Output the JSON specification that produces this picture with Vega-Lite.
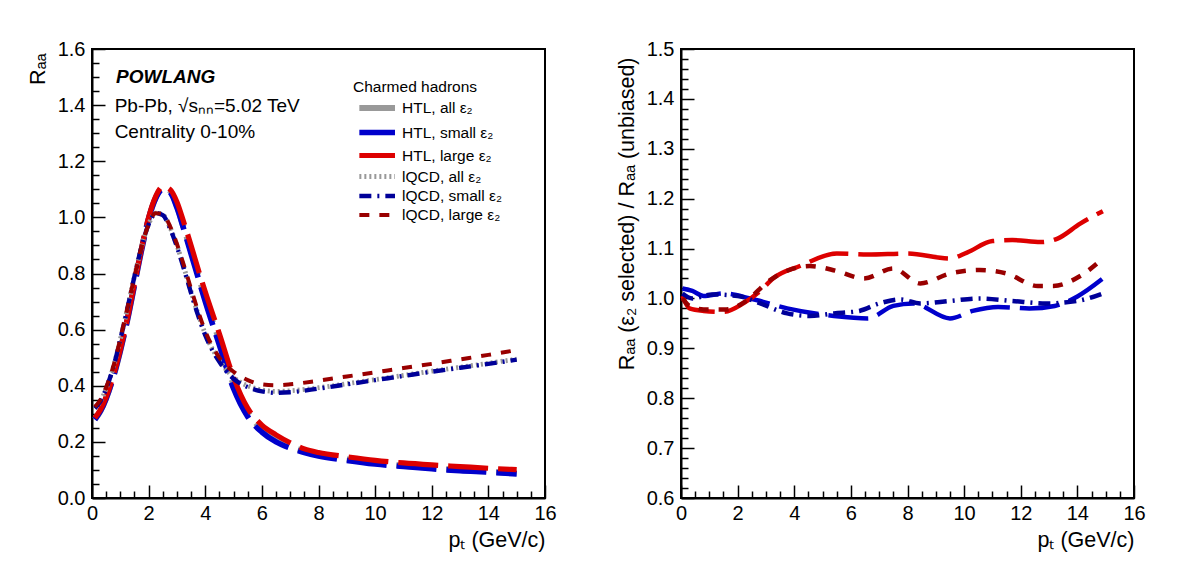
{
  "$schema": "https://vega.github.io/schema/vega-lite/v6.json",
  "padding": {"left": 26, "top": 38, "right": 10, "bottom": 10},
  "background": "white",
  "config": {
    "font": "Liberation Sans",
    "view": {"stroke": "black", "strokeWidth": 2},
    "axis": {
      "grid": false,
      "labelFlush": false,
      "domainColor": "black",
      "domainWidth": 2,
      "tickColor": "black",
      "tickWidth": 1.5,
      "labelColor": "black",
      "labelFont": "Liberation Sans",
      "labelFontSize": 20,
      "titleColor": "black",
      "titleFont": "Liberation Sans",
      "titleFontSize": 21.5,
      "titleFontWeight": "normal"
    }
  },
  "spacing": 57,
  "datasets": {
    "raa": [
      {"series": "HTL, all ε₂", "pT": 0.1, "R": 0.28}, {"series": "HTL, all ε₂", "pT": 0.3, "R": 0.31}, {"series": "HTL, all ε₂", "pT": 0.5, "R": 0.355}, {"series": "HTL, all ε₂", "pT": 0.75, "R": 0.43}, {"series": "HTL, all ε₂", "pT": 1.0, "R": 0.525}, {"series": "HTL, all ε₂", "pT": 1.25, "R": 0.635}, {"series": "HTL, all ε₂", "pT": 1.5, "R": 0.76}, {"series": "HTL, all ε₂", "pT": 1.75, "R": 0.885}, {"series": "HTL, all ε₂", "pT": 2.0, "R": 0.995}, {"series": "HTL, all ε₂", "pT": 2.25, "R": 1.07}, {"series": "HTL, all ε₂", "pT": 2.5, "R": 1.105}, {"series": "HTL, all ε₂", "pT": 2.75, "R": 1.095}, {"series": "HTL, all ε₂", "pT": 3.0, "R": 1.04}, {"series": "HTL, all ε₂", "pT": 3.25, "R": 0.96}, {"series": "HTL, all ε₂", "pT": 3.5, "R": 0.88}, {"series": "HTL, all ε₂", "pT": 3.75, "R": 0.795}, {"series": "HTL, all ε₂", "pT": 4.0, "R": 0.71}, {"series": "HTL, all ε₂", "pT": 4.5, "R": 0.56}, {"series": "HTL, all ε₂", "pT": 5.0, "R": 0.405}, {"series": "HTL, all ε₂", "pT": 5.5, "R": 0.305}, {"series": "HTL, all ε₂", "pT": 6.0, "R": 0.245}, {"series": "HTL, all ε₂", "pT": 6.5, "R": 0.21}, {"series": "HTL, all ε₂", "pT": 7.0, "R": 0.185}, {"series": "HTL, all ε₂", "pT": 7.5, "R": 0.167}, {"series": "HTL, all ε₂", "pT": 8, "R": 0.155}, {"series": "HTL, all ε₂", "pT": 9, "R": 0.138}, {"series": "HTL, all ε₂", "pT": 10, "R": 0.125}, {"series": "HTL, all ε₂", "pT": 11, "R": 0.115}, {"series": "HTL, all ε₂", "pT": 12, "R": 0.107}, {"series": "HTL, all ε₂", "pT": 13, "R": 0.1}, {"series": "HTL, all ε₂", "pT": 14, "R": 0.094}, {"series": "HTL, all ε₂", "pT": 15, "R": 0.088},

      {"series": "HTL, small ε₂", "pT": 0.1, "R": 0.28}, {"series": "HTL, small ε₂", "pT": 0.3, "R": 0.31}, {"series": "HTL, small ε₂", "pT": 0.5, "R": 0.355}, {"series": "HTL, small ε₂", "pT": 0.75, "R": 0.43}, {"series": "HTL, small ε₂", "pT": 1.0, "R": 0.525}, {"series": "HTL, small ε₂", "pT": 1.25, "R": 0.635}, {"series": "HTL, small ε₂", "pT": 1.5, "R": 0.76}, {"series": "HTL, small ε₂", "pT": 1.75, "R": 0.885}, {"series": "HTL, small ε₂", "pT": 2.0, "R": 0.995}, {"series": "HTL, small ε₂", "pT": 2.25, "R": 1.068}, {"series": "HTL, small ε₂", "pT": 2.5, "R": 1.1}, {"series": "HTL, small ε₂", "pT": 2.75, "R": 1.09}, {"series": "HTL, small ε₂", "pT": 3.0, "R": 1.035}, {"series": "HTL, small ε₂", "pT": 3.25, "R": 0.955}, {"series": "HTL, small ε₂", "pT": 3.5, "R": 0.87}, {"series": "HTL, small ε₂", "pT": 3.75, "R": 0.785}, {"series": "HTL, small ε₂", "pT": 4.0, "R": 0.7}, {"series": "HTL, small ε₂", "pT": 4.5, "R": 0.545}, {"series": "HTL, small ε₂", "pT": 5.0, "R": 0.39}, {"series": "HTL, small ε₂", "pT": 5.5, "R": 0.29}, {"series": "HTL, small ε₂", "pT": 6.0, "R": 0.235}, {"series": "HTL, small ε₂", "pT": 6.5, "R": 0.2}, {"series": "HTL, small ε₂", "pT": 7.0, "R": 0.178}, {"series": "HTL, small ε₂", "pT": 7.5, "R": 0.162}, {"series": "HTL, small ε₂", "pT": 8, "R": 0.15}, {"series": "HTL, small ε₂", "pT": 9, "R": 0.134}, {"series": "HTL, small ε₂", "pT": 10, "R": 0.121}, {"series": "HTL, small ε₂", "pT": 11, "R": 0.112}, {"series": "HTL, small ε₂", "pT": 12, "R": 0.104}, {"series": "HTL, small ε₂", "pT": 13, "R": 0.097}, {"series": "HTL, small ε₂", "pT": 14, "R": 0.092}, {"series": "HTL, small ε₂", "pT": 15, "R": 0.086},

      {"series": "HTL, large ε₂", "pT": 0.1, "R": 0.285}, {"series": "HTL, large ε₂", "pT": 0.3, "R": 0.315}, {"series": "HTL, large ε₂", "pT": 0.5, "R": 0.36}, {"series": "HTL, large ε₂", "pT": 0.75, "R": 0.435}, {"series": "HTL, large ε₂", "pT": 1.0, "R": 0.53}, {"series": "HTL, large ε₂", "pT": 1.25, "R": 0.64}, {"series": "HTL, large ε₂", "pT": 1.5, "R": 0.765}, {"series": "HTL, large ε₂", "pT": 1.75, "R": 0.89}, {"series": "HTL, large ε₂", "pT": 2.0, "R": 1.0}, {"series": "HTL, large ε₂", "pT": 2.25, "R": 1.075}, {"series": "HTL, large ε₂", "pT": 2.5, "R": 1.11}, {"series": "HTL, large ε₂", "pT": 2.75, "R": 1.1}, {"series": "HTL, large ε₂", "pT": 3.0, "R": 1.055}, {"series": "HTL, large ε₂", "pT": 3.25, "R": 0.98}, {"series": "HTL, large ε₂", "pT": 3.5, "R": 0.9}, {"series": "HTL, large ε₂", "pT": 3.75, "R": 0.815}, {"series": "HTL, large ε₂", "pT": 4.0, "R": 0.735}, {"series": "HTL, large ε₂", "pT": 4.5, "R": 0.585}, {"series": "HTL, large ε₂", "pT": 5.0, "R": 0.43}, {"series": "HTL, large ε₂", "pT": 5.5, "R": 0.32}, {"series": "HTL, large ε₂", "pT": 6.0, "R": 0.26}, {"series": "HTL, large ε₂", "pT": 6.5, "R": 0.225}, {"series": "HTL, large ε₂", "pT": 7.0, "R": 0.197}, {"series": "HTL, large ε₂", "pT": 7.5, "R": 0.175}, {"series": "HTL, large ε₂", "pT": 8, "R": 0.162}, {"series": "HTL, large ε₂", "pT": 9, "R": 0.147}, {"series": "HTL, large ε₂", "pT": 10, "R": 0.134}, {"series": "HTL, large ε₂", "pT": 11, "R": 0.125}, {"series": "HTL, large ε₂", "pT": 12, "R": 0.118}, {"series": "HTL, large ε₂", "pT": 13, "R": 0.112}, {"series": "HTL, large ε₂", "pT": 14, "R": 0.106}, {"series": "HTL, large ε₂", "pT": 15, "R": 0.101},

      {"series": "lQCD, all ε₂", "pT": 0.1, "R": 0.32}, {"series": "lQCD, all ε₂", "pT": 0.3, "R": 0.345}, {"series": "lQCD, all ε₂", "pT": 0.5, "R": 0.39}, {"series": "lQCD, all ε₂", "pT": 0.75, "R": 0.465}, {"series": "lQCD, all ε₂", "pT": 1.0, "R": 0.565}, {"series": "lQCD, all ε₂", "pT": 1.25, "R": 0.675}, {"series": "lQCD, all ε₂", "pT": 1.5, "R": 0.79}, {"series": "lQCD, all ε₂", "pT": 1.75, "R": 0.895}, {"series": "lQCD, all ε₂", "pT": 2.0, "R": 0.975}, {"series": "lQCD, all ε₂", "pT": 2.25, "R": 1.015}, {"series": "lQCD, all ε₂", "pT": 2.5, "R": 1.01}, {"series": "lQCD, all ε₂", "pT": 2.75, "R": 0.965}, {"series": "lQCD, all ε₂", "pT": 3.0, "R": 0.9}, {"series": "lQCD, all ε₂", "pT": 3.25, "R": 0.82}, {"series": "lQCD, all ε₂", "pT": 3.5, "R": 0.735}, {"series": "lQCD, all ε₂", "pT": 3.75, "R": 0.655}, {"series": "lQCD, all ε₂", "pT": 4.0, "R": 0.585}, {"series": "lQCD, all ε₂", "pT": 4.5, "R": 0.49}, {"series": "lQCD, all ε₂", "pT": 5.0, "R": 0.43}, {"series": "lQCD, all ε₂", "pT": 5.5, "R": 0.4}, {"series": "lQCD, all ε₂", "pT": 6.0, "R": 0.385}, {"series": "lQCD, all ε₂", "pT": 6.5, "R": 0.38}, {"series": "lQCD, all ε₂", "pT": 7.0, "R": 0.382}, {"series": "lQCD, all ε₂", "pT": 8, "R": 0.393}, {"series": "lQCD, all ε₂", "pT": 9, "R": 0.407}, {"series": "lQCD, all ε₂", "pT": 10, "R": 0.422}, {"series": "lQCD, all ε₂", "pT": 11, "R": 0.437}, {"series": "lQCD, all ε₂", "pT": 12, "R": 0.452}, {"series": "lQCD, all ε₂", "pT": 13, "R": 0.466}, {"series": "lQCD, all ε₂", "pT": 14, "R": 0.48}, {"series": "lQCD, all ε₂", "pT": 15, "R": 0.495},

      {"series": "lQCD, small ε₂", "pT": 0.1, "R": 0.32}, {"series": "lQCD, small ε₂", "pT": 0.3, "R": 0.345}, {"series": "lQCD, small ε₂", "pT": 0.5, "R": 0.39}, {"series": "lQCD, small ε₂", "pT": 0.75, "R": 0.465}, {"series": "lQCD, small ε₂", "pT": 1.0, "R": 0.565}, {"series": "lQCD, small ε₂", "pT": 1.25, "R": 0.675}, {"series": "lQCD, small ε₂", "pT": 1.5, "R": 0.79}, {"series": "lQCD, small ε₂", "pT": 1.75, "R": 0.895}, {"series": "lQCD, small ε₂", "pT": 2.0, "R": 0.975}, {"series": "lQCD, small ε₂", "pT": 2.25, "R": 1.015}, {"series": "lQCD, small ε₂", "pT": 2.5, "R": 1.008}, {"series": "lQCD, small ε₂", "pT": 2.75, "R": 0.962}, {"series": "lQCD, small ε₂", "pT": 3.0, "R": 0.895}, {"series": "lQCD, small ε₂", "pT": 3.25, "R": 0.815}, {"series": "lQCD, small ε₂", "pT": 3.5, "R": 0.73}, {"series": "lQCD, small ε₂", "pT": 3.75, "R": 0.65}, {"series": "lQCD, small ε₂", "pT": 4.0, "R": 0.58}, {"series": "lQCD, small ε₂", "pT": 4.5, "R": 0.485}, {"series": "lQCD, small ε₂", "pT": 5.0, "R": 0.425}, {"series": "lQCD, small ε₂", "pT": 5.5, "R": 0.395}, {"series": "lQCD, small ε₂", "pT": 6.0, "R": 0.38}, {"series": "lQCD, small ε₂", "pT": 6.5, "R": 0.375}, {"series": "lQCD, small ε₂", "pT": 7.0, "R": 0.377}, {"series": "lQCD, small ε₂", "pT": 8, "R": 0.39}, {"series": "lQCD, small ε₂", "pT": 9, "R": 0.405}, {"series": "lQCD, small ε₂", "pT": 10, "R": 0.42}, {"series": "lQCD, small ε₂", "pT": 11, "R": 0.435}, {"series": "lQCD, small ε₂", "pT": 12, "R": 0.45}, {"series": "lQCD, small ε₂", "pT": 13, "R": 0.464}, {"series": "lQCD, small ε₂", "pT": 14, "R": 0.478}, {"series": "lQCD, small ε₂", "pT": 15, "R": 0.493},

      {"series": "lQCD, large ε₂", "pT": 0.1, "R": 0.325}, {"series": "lQCD, large ε₂", "pT": 0.3, "R": 0.35}, {"series": "lQCD, large ε₂", "pT": 0.5, "R": 0.395}, {"series": "lQCD, large ε₂", "pT": 0.75, "R": 0.468}, {"series": "lQCD, large ε₂", "pT": 1.0, "R": 0.567}, {"series": "lQCD, large ε₂", "pT": 1.25, "R": 0.677}, {"series": "lQCD, large ε₂", "pT": 1.5, "R": 0.79}, {"series": "lQCD, large ε₂", "pT": 1.75, "R": 0.895}, {"series": "lQCD, large ε₂", "pT": 2.0, "R": 0.975}, {"series": "lQCD, large ε₂", "pT": 2.25, "R": 1.015}, {"series": "lQCD, large ε₂", "pT": 2.5, "R": 1.012}, {"series": "lQCD, large ε₂", "pT": 2.75, "R": 0.97}, {"series": "lQCD, large ε₂", "pT": 3.0, "R": 0.905}, {"series": "lQCD, large ε₂", "pT": 3.25, "R": 0.828}, {"series": "lQCD, large ε₂", "pT": 3.5, "R": 0.745}, {"series": "lQCD, large ε₂", "pT": 3.75, "R": 0.665}, {"series": "lQCD, large ε₂", "pT": 4.0, "R": 0.595}, {"series": "lQCD, large ε₂", "pT": 4.5, "R": 0.5}, {"series": "lQCD, large ε₂", "pT": 5.0, "R": 0.45}, {"series": "lQCD, large ε₂", "pT": 5.5, "R": 0.42}, {"series": "lQCD, large ε₂", "pT": 6.0, "R": 0.405}, {"series": "lQCD, large ε₂", "pT": 6.5, "R": 0.402}, {"series": "lQCD, large ε₂", "pT": 7.0, "R": 0.405}, {"series": "lQCD, large ε₂", "pT": 8, "R": 0.418}, {"series": "lQCD, large ε₂", "pT": 9, "R": 0.433}, {"series": "lQCD, large ε₂", "pT": 10, "R": 0.448}, {"series": "lQCD, large ε₂", "pT": 11, "R": 0.463}, {"series": "lQCD, large ε₂", "pT": 12, "R": 0.478}, {"series": "lQCD, large ε₂", "pT": 13, "R": 0.494}, {"series": "lQCD, large ε₂", "pT": 14, "R": 0.51}, {"series": "lQCD, large ε₂", "pT": 15, "R": 0.527}
    ],
    "ratio": [
      {"series": "HTL, small ε₂", "pT": 0.05, "R": 1.02}, {"series": "HTL, small ε₂", "pT": 0.4, "R": 1.015}, {"series": "HTL, small ε₂", "pT": 0.8, "R": 1.005}, {"series": "HTL, small ε₂", "pT": 1.5, "R": 1.01}, {"series": "HTL, small ε₂", "pT": 2.45, "R": 1.0}, {"series": "HTL, small ε₂", "pT": 3.75, "R": 0.98}, {"series": "HTL, small ε₂", "pT": 5.4, "R": 0.965}, {"series": "HTL, small ε₂", "pT": 6.6, "R": 0.96}, {"series": "HTL, small ε₂", "pT": 7.5, "R": 0.985}, {"series": "HTL, small ε₂", "pT": 8.2, "R": 0.99}, {"series": "HTL, small ε₂", "pT": 9.5, "R": 0.96}, {"series": "HTL, small ε₂", "pT": 10.3, "R": 0.975}, {"series": "HTL, small ε₂", "pT": 11.2, "R": 0.983}, {"series": "HTL, small ε₂", "pT": 12.3, "R": 0.98}, {"series": "HTL, small ε₂", "pT": 13.2, "R": 0.985}, {"series": "HTL, small ε₂", "pT": 14.0, "R": 1.004}, {"series": "HTL, small ε₂", "pT": 14.9, "R": 1.04},

      {"series": "HTL, large ε₂", "pT": 0.05, "R": 1.005}, {"series": "HTL, large ε₂", "pT": 0.3, "R": 0.98}, {"series": "HTL, large ε₂", "pT": 0.8, "R": 0.975}, {"series": "HTL, large ε₂", "pT": 1.5, "R": 0.973}, {"series": "HTL, large ε₂", "pT": 2.2, "R": 0.99}, {"series": "HTL, large ε₂", "pT": 2.8, "R": 1.015}, {"series": "HTL, large ε₂", "pT": 3.25, "R": 1.04}, {"series": "HTL, large ε₂", "pT": 4.2, "R": 1.065}, {"series": "HTL, large ε₂", "pT": 5.5, "R": 1.09}, {"series": "HTL, large ε₂", "pT": 6.6, "R": 1.088}, {"series": "HTL, large ε₂", "pT": 8.0, "R": 1.09}, {"series": "HTL, large ε₂", "pT": 9.5, "R": 1.08}, {"series": "HTL, large ε₂", "pT": 10.1, "R": 1.092}, {"series": "HTL, large ε₂", "pT": 11.0, "R": 1.115}, {"series": "HTL, large ε₂", "pT": 11.7, "R": 1.117}, {"series": "HTL, large ε₂", "pT": 12.7, "R": 1.113}, {"series": "HTL, large ε₂", "pT": 13.3, "R": 1.12}, {"series": "HTL, large ε₂", "pT": 14.1, "R": 1.15}, {"series": "HTL, large ε₂", "pT": 14.9, "R": 1.175},

      {"series": "lQCD, small ε₂", "pT": 0.05, "R": 1.01}, {"series": "lQCD, small ε₂", "pT": 0.4, "R": 1.0}, {"series": "lQCD, small ε₂", "pT": 1.1, "R": 1.008}, {"series": "lQCD, small ε₂", "pT": 2.0, "R": 1.005}, {"series": "lQCD, small ε₂", "pT": 2.8, "R": 0.99}, {"series": "lQCD, small ε₂", "pT": 3.75, "R": 0.97}, {"series": "lQCD, small ε₂", "pT": 4.55, "R": 0.965}, {"series": "lQCD, small ε₂", "pT": 5.4, "R": 0.97}, {"series": "lQCD, small ε₂", "pT": 6.3, "R": 0.975}, {"series": "lQCD, small ε₂", "pT": 7.0, "R": 0.99}, {"series": "lQCD, small ε₂", "pT": 7.75, "R": 0.998}, {"series": "lQCD, small ε₂", "pT": 8.45, "R": 0.99}, {"series": "lQCD, small ε₂", "pT": 9.5, "R": 0.995}, {"series": "lQCD, small ε₂", "pT": 10.55, "R": 1.0}, {"series": "lQCD, small ε₂", "pT": 11.7, "R": 0.995}, {"series": "lQCD, small ε₂", "pT": 12.9, "R": 0.99}, {"series": "lQCD, small ε₂", "pT": 14.0, "R": 0.995}, {"series": "lQCD, small ε₂", "pT": 14.9, "R": 1.01},

      {"series": "lQCD, large ε₂", "pT": 0.05, "R": 1.0}, {"series": "lQCD, large ε₂", "pT": 0.3, "R": 0.985}, {"series": "lQCD, large ε₂", "pT": 0.8, "R": 0.978}, {"series": "lQCD, large ε₂", "pT": 1.6, "R": 0.978}, {"series": "lQCD, large ε₂", "pT": 2.3, "R": 0.995}, {"series": "lQCD, large ε₂", "pT": 3.1, "R": 1.035}, {"series": "lQCD, large ε₂", "pT": 4.55, "R": 1.065}, {"series": "lQCD, large ε₂", "pT": 5.5, "R": 1.055}, {"series": "lQCD, large ε₂", "pT": 6.45, "R": 1.04}, {"series": "lQCD, large ε₂", "pT": 7.5, "R": 1.06}, {"series": "lQCD, large ε₂", "pT": 8.45, "R": 1.03}, {"series": "lQCD, large ε₂", "pT": 9.5, "R": 1.05}, {"series": "lQCD, large ε₂", "pT": 10.55, "R": 1.057}, {"series": "lQCD, large ε₂", "pT": 11.5, "R": 1.05}, {"series": "lQCD, large ε₂", "pT": 12.6, "R": 1.025}, {"series": "lQCD, large ε₂", "pT": 13.15, "R": 1.025}, {"series": "lQCD, large ε₂", "pT": 14.1, "R": 1.045}, {"series": "lQCD, large ε₂", "pT": 14.9, "R": 1.08}
    ],
    "notes": [
      {"text": "POWLANG", "pT": 0.85, "R": 1.479, "kind": "model"},
      {"text": "Pb-Pb, √sₙₙ=5.02 TeV", "pT": 0.8, "R": 1.376, "kind": "info"},
      {"text": "Centrality 0-10%", "pT": 0.8, "R": 1.283, "kind": "info"}
    ]
  },
  "hconcat": [
    {
      "width": 453,
      "height": 449,
      "layer": [
        {
          "mark": {"type": "rule", "color": "#999999", "strokeWidth": 1.5, "strokeDash": [7, 5]},
          "encoding": {
            "x": {"datum": 0, "type": "quantitative", "scale": {"domain": [0, 16]},
                  "axis": {"orient": "bottom", "values": [0.5,1,1.5,2.5,3,3.5,4.5,5,5.5,6.5,7,7.5,8.5,9,9.5,10.5,11,11.5,12.5,13,13.5,14.5,15,15.5], "labels": false, "domain": false, "tickSize": -7, "title": null}},
            "x2": {"datum": 16},
            "y": {"datum": 1, "type": "quantitative", "scale": {"domain": [0, 1.6]},
                  "axis": {"orient": "left", "values": [0.05,0.1,0.15,0.25,0.3,0.35,0.45,0.5,0.55,0.65,0.7,0.75,0.85,0.9,0.95,1.05,1.1,1.15,1.25,1.3,1.35,1.45,1.5,1.55], "labels": false, "domain": false, "tickSize": -7, "title": null}}
          }
        },
        {
          "data": {"name": "raa"},
          "mark": {"type": "line", "interpolate": "monotone", "strokeCap": "butt"},
          "encoding": {
            "x": {"field": "pT", "type": "quantitative", "scale": {"domain": [0, 16]},
                  "axis": {"orient": "bottom", "values": [0,2,4,6,8,10,12,14,16], "tickSize": -13, "labelPadding": 18, "title": "pₜ (GeV/c)", "titleAnchor": "end", "titlePadding": 6}},
            "y": {"field": "R", "type": "quantitative", "scale": {"domain": [0, 1.6]},
                  "axis": {"orient": "left", "values": [0,0.2,0.4,0.6,0.8,1,1.2,1.4,1.6], "tickSize": -13, "labelPadding": 20, "title": "Rₐₐ", "titleAnchor": "end", "titlePadding": 8, "titleY": 4}},
            "color": {
              "field": "series", "type": "nominal",
              "scale": {
                "domain": ["HTL, all ε₂", "HTL, small ε₂", "HTL, large ε₂", "lQCD, all ε₂", "lQCD, small ε₂", "lQCD, large ε₂"],
                "range": ["#999999", "#0000cc", "#dd0000", "#999999", "#000099", "#990000"]
              },
              "legend": {
                "title": "Charmed hadrons",
                "orient": "none",
                "legendX": 261,
                "legendY": 31,
                "titleFontSize": 15.5,
                "titleFontWeight": "normal",
                "titleColor": "black",
                "titlePadding": 2,
                "labelFontSize": 15.5,
                "labelColor": "black",
                "symbolType": "M-0.58,0H4.4",
                "symbolSize": 205,
                "symbolStrokeWidth": 4.5,
                "rowPadding": 0,
                "labelOffset": 28
              }
            },
            "strokeDash": {
              "field": "series", "type": "nominal",
              "scale": {
                "domain": ["HTL, all ε₂", "HTL, small ε₂", "HTL, large ε₂", "lQCD, all ε₂", "lQCD, small ε₂", "lQCD, large ε₂"],
                "range": [[40, 10], [40, 10], [40, 10], [2, 3], [12, 6, 2, 6], [10, 10]]
              },
              "legend": null
            },
            "strokeWidth": {
              "field": "series", "type": "nominal",
              "scale": {
                "domain": ["HTL, all ε₂", "HTL, small ε₂", "HTL, large ε₂", "lQCD, all ε₂", "lQCD, small ε₂", "lQCD, large ε₂"],
                "range": [6, 4, 4, 4.5, 4.5, 4.5]
              },
              "legend": null
            }
          }
        },
        {
          "data": {"name": "notes"},
          "transform": [{"filter": "datum.kind === 'model'"}],
          "mark": {"type": "text", "align": "left", "baseline": "alphabetic", "color": "black", "font": "Liberation Sans", "fontSize": 19, "fontWeight": "bold", "fontStyle": "italic"},
          "encoding": {
            "x": {"field": "pT", "type": "quantitative", "axis": null},
            "y": {"field": "R", "type": "quantitative", "axis": null},
            "text": {"field": "text"}
          }
        },
        {
          "data": {"name": "notes"},
          "transform": [{"filter": "datum.kind === 'info'"}],
          "mark": {"type": "text", "align": "left", "baseline": "alphabetic", "color": "black", "font": "Liberation Sans", "fontSize": 19},
          "encoding": {
            "x": {"field": "pT", "type": "quantitative", "axis": null},
            "y": {"field": "R", "type": "quantitative", "axis": null},
            "text": {"field": "text"}
          }
        }
      ],
      "resolve": {"axis": {"x": "independent", "y": "independent"}}
    },
    {
      "width": 453,
      "height": 449,
      "layer": [
        {
          "mark": {"type": "rule", "color": "#999999", "strokeWidth": 1.5, "strokeDash": [7, 5]},
          "encoding": {
            "x": {"datum": 0, "type": "quantitative", "scale": {"domain": [0, 16]},
                  "axis": {"orient": "bottom", "values": [0.5,1,1.5,2.5,3,3.5,4.5,5,5.5,6.5,7,7.5,8.5,9,9.5,10.5,11,11.5,12.5,13,13.5,14.5,15,15.5], "labels": false, "domain": false, "tickSize": -7, "title": null}},
            "x2": {"datum": 16},
            "y": {"datum": 1, "type": "quantitative", "scale": {"domain": [0.6, 1.5]},
                  "axis": {"orient": "left", "values": [0.62,0.64,0.66,0.68,0.72,0.74,0.76,0.78,0.82,0.84,0.86,0.88,0.92,0.94,0.96,0.98,1.02,1.04,1.06,1.08,1.12,1.14,1.16,1.18,1.22,1.24,1.26,1.28,1.32,1.34,1.36,1.38,1.42,1.44,1.46,1.48], "labels": false, "domain": false, "tickSize": -7, "title": null}}
          }
        },
        {
          "data": {"name": "ratio"},
          "mark": {"type": "line", "interpolate": "monotone", "strokeCap": "butt", "strokeWidth": 4.5},
          "encoding": {
            "x": {"field": "pT", "type": "quantitative", "scale": {"domain": [0, 16]},
                  "axis": {"orient": "bottom", "values": [0,2,4,6,8,10,12,14,16], "tickSize": -13, "labelPadding": 18, "title": "pₜ (GeV/c)", "titleAnchor": "end", "titlePadding": 6}},
            "y": {"field": "R", "type": "quantitative", "scale": {"domain": [0.6, 1.5]},
                  "axis": {"orient": "left", "values": [0.6,0.7,0.8,0.9,1,1.1,1.2,1.3,1.4,1.5], "tickSize": -13, "labelPadding": 20, "title": "Rₐₐ (ε₂ selected) / Rₐₐ (unbiased)", "titleAnchor": "end", "titlePadding": 8, "titleY": 8}},
            "color": {
              "field": "series", "type": "nominal",
              "scale": {
                "domain": ["HTL, small ε₂", "HTL, large ε₂", "lQCD, small ε₂", "lQCD, large ε₂"],
                "range": ["#0000cc", "#dd0000", "#000099", "#990000"]
              },
              "legend": null
            },
            "strokeDash": {
              "field": "series", "type": "nominal",
              "scale": {
                "domain": ["HTL, small ε₂", "HTL, large ε₂", "lQCD, small ε₂", "lQCD, large ε₂"],
                "range": [[40, 10], [40, 10], [12, 6, 2, 6], [10, 10]]
              },
              "legend": null
            }
          }
        }
      ],
      "resolve": {"axis": {"x": "independent", "y": "independent"}}
    }
  ],
  "resolve": {"scale": {"color": "independent", "strokeDash": "independent", "strokeWidth": "independent", "x": "independent", "y": "independent"}, "legend": {"color": "independent"}}
}
